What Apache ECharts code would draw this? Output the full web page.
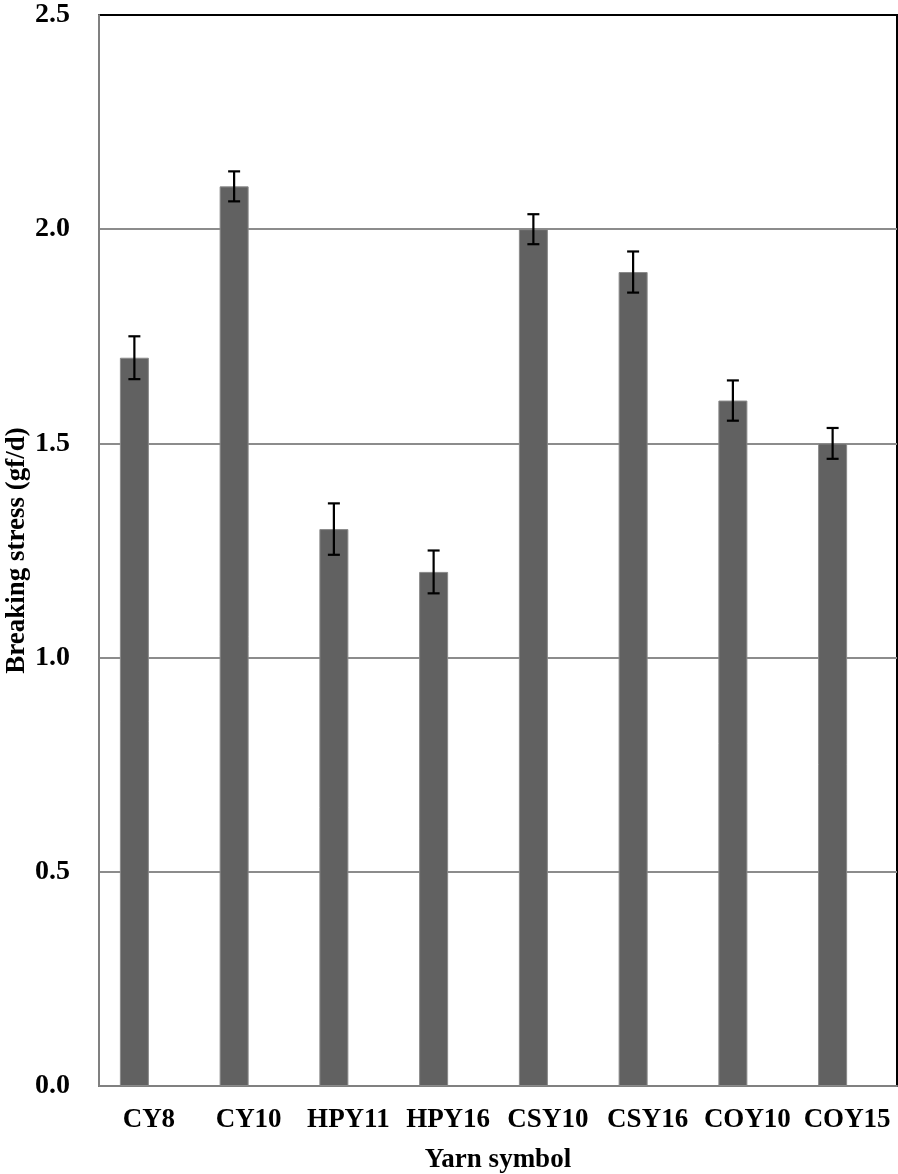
<!DOCTYPE html>
<html><head><meta charset="utf-8">
<script src="https://cdn.jsdelivr.net/npm/echarts@6/dist/echarts.min.js"></script>
<style>html,body{margin:0;padding:0;background:#fff}#c{width:898px;height:1174px}</style>
</head><body><div id="c"></div>
<script>
var categories = ['CY8','CY10','HPY11','HPY16','CSY10','CSY16','COY10','COY15'];
var values = [1.70, 2.10, 1.30, 1.20, 2.00, 1.90, 1.60, 1.50];
var errors = [0.05, 0.035, 0.06, 0.05, 0.035, 0.048, 0.047, 0.036];
var yTicks = [0, 0.5, 1.0, 1.5, 2.0, 2.5];

var BAR_W = 29;
var font = '"Liberation Serif", "Times New Roman", serif';
var chart = echarts.init(document.getElementById('c'));
var errData = categories.map(function(c,i){ return [i, values[i]-errors[i], values[i]+errors[i]]; });
chart.setOption({
  animation:false,
  grid:{left:99,right:1,top:15,bottom:88,show:true,borderColor:'#000',borderWidth:2,
    containLabel:false,outerBoundsMode:'none'},
  xAxis:{type:'category',data:categories,
    axisLine:{show:true,lineStyle:{color:'#808080',width:2}},
    axisTick:{show:false},
    axisLabel:{fontFamily:font,fontWeight:'bold',fontSize:27,color:'#000',margin:21,interval:0},
    name:'Yarn symbol',nameLocation:'middle',nameGap:61,nameMoveOverlap:false,
    nameTextStyle:{fontFamily:font,fontWeight:'bold',fontSize:27,color:'#000'}},
  yAxis:{type:'value',min:yTicks[0],max:yTicks[yTicks.length-1],interval:yTicks[1]-yTicks[0],
    axisLine:{show:true,lineStyle:{color:'#808080',width:2}},
    axisTick:{show:false},
    splitLine:{show:true,showMinLine:false,showMaxLine:false,lineStyle:{color:'#8c8c8c',width:2}},
    axisLabel:{fontFamily:font,fontWeight:'bold',fontSize:28,color:'#000',margin:29,
      formatter:function(v){return v.toFixed(1);}},
    name:'Breaking stress (gf/d)',nameLocation:'middle',nameGap:68,nameMoveOverlap:false,
    nameTextStyle:{fontFamily:font,fontWeight:'bold',fontSize:27,color:'#000'}},
  series:[
    {type:'bar',data:values,barWidth:BAR_W,barGap:'0%',
     itemStyle:{color:'#616161',borderColor:'#8a8a8a',borderWidth:1}},
    {type:'bar',data:values.map(function(){return '-';}),barWidth:BAR_W},
    {type:'custom',data:errData,z:10,
     renderItem:function(params,api){
       var x = api.coord([api.value(0),0])[0] - BAR_W/2;
       var lo = api.coord([api.value(0),api.value(1)])[1];
       var hi = api.coord([api.value(0),api.value(2)])[1];
       var hw = 6;
       var st = {stroke:'#000',lineWidth:2.2};
       return {type:'group',children:[
         {type:'line',shape:{x1:x,y1:lo,x2:x,y2:hi},style:st},
         {type:'line',shape:{x1:x-hw,y1:lo,x2:x+hw,y2:lo},style:st},
         {type:'line',shape:{x1:x-hw,y1:hi,x2:x+hw,y2:hi},style:st}
       ]};
     }}
  ]
});
</script></body></html>
